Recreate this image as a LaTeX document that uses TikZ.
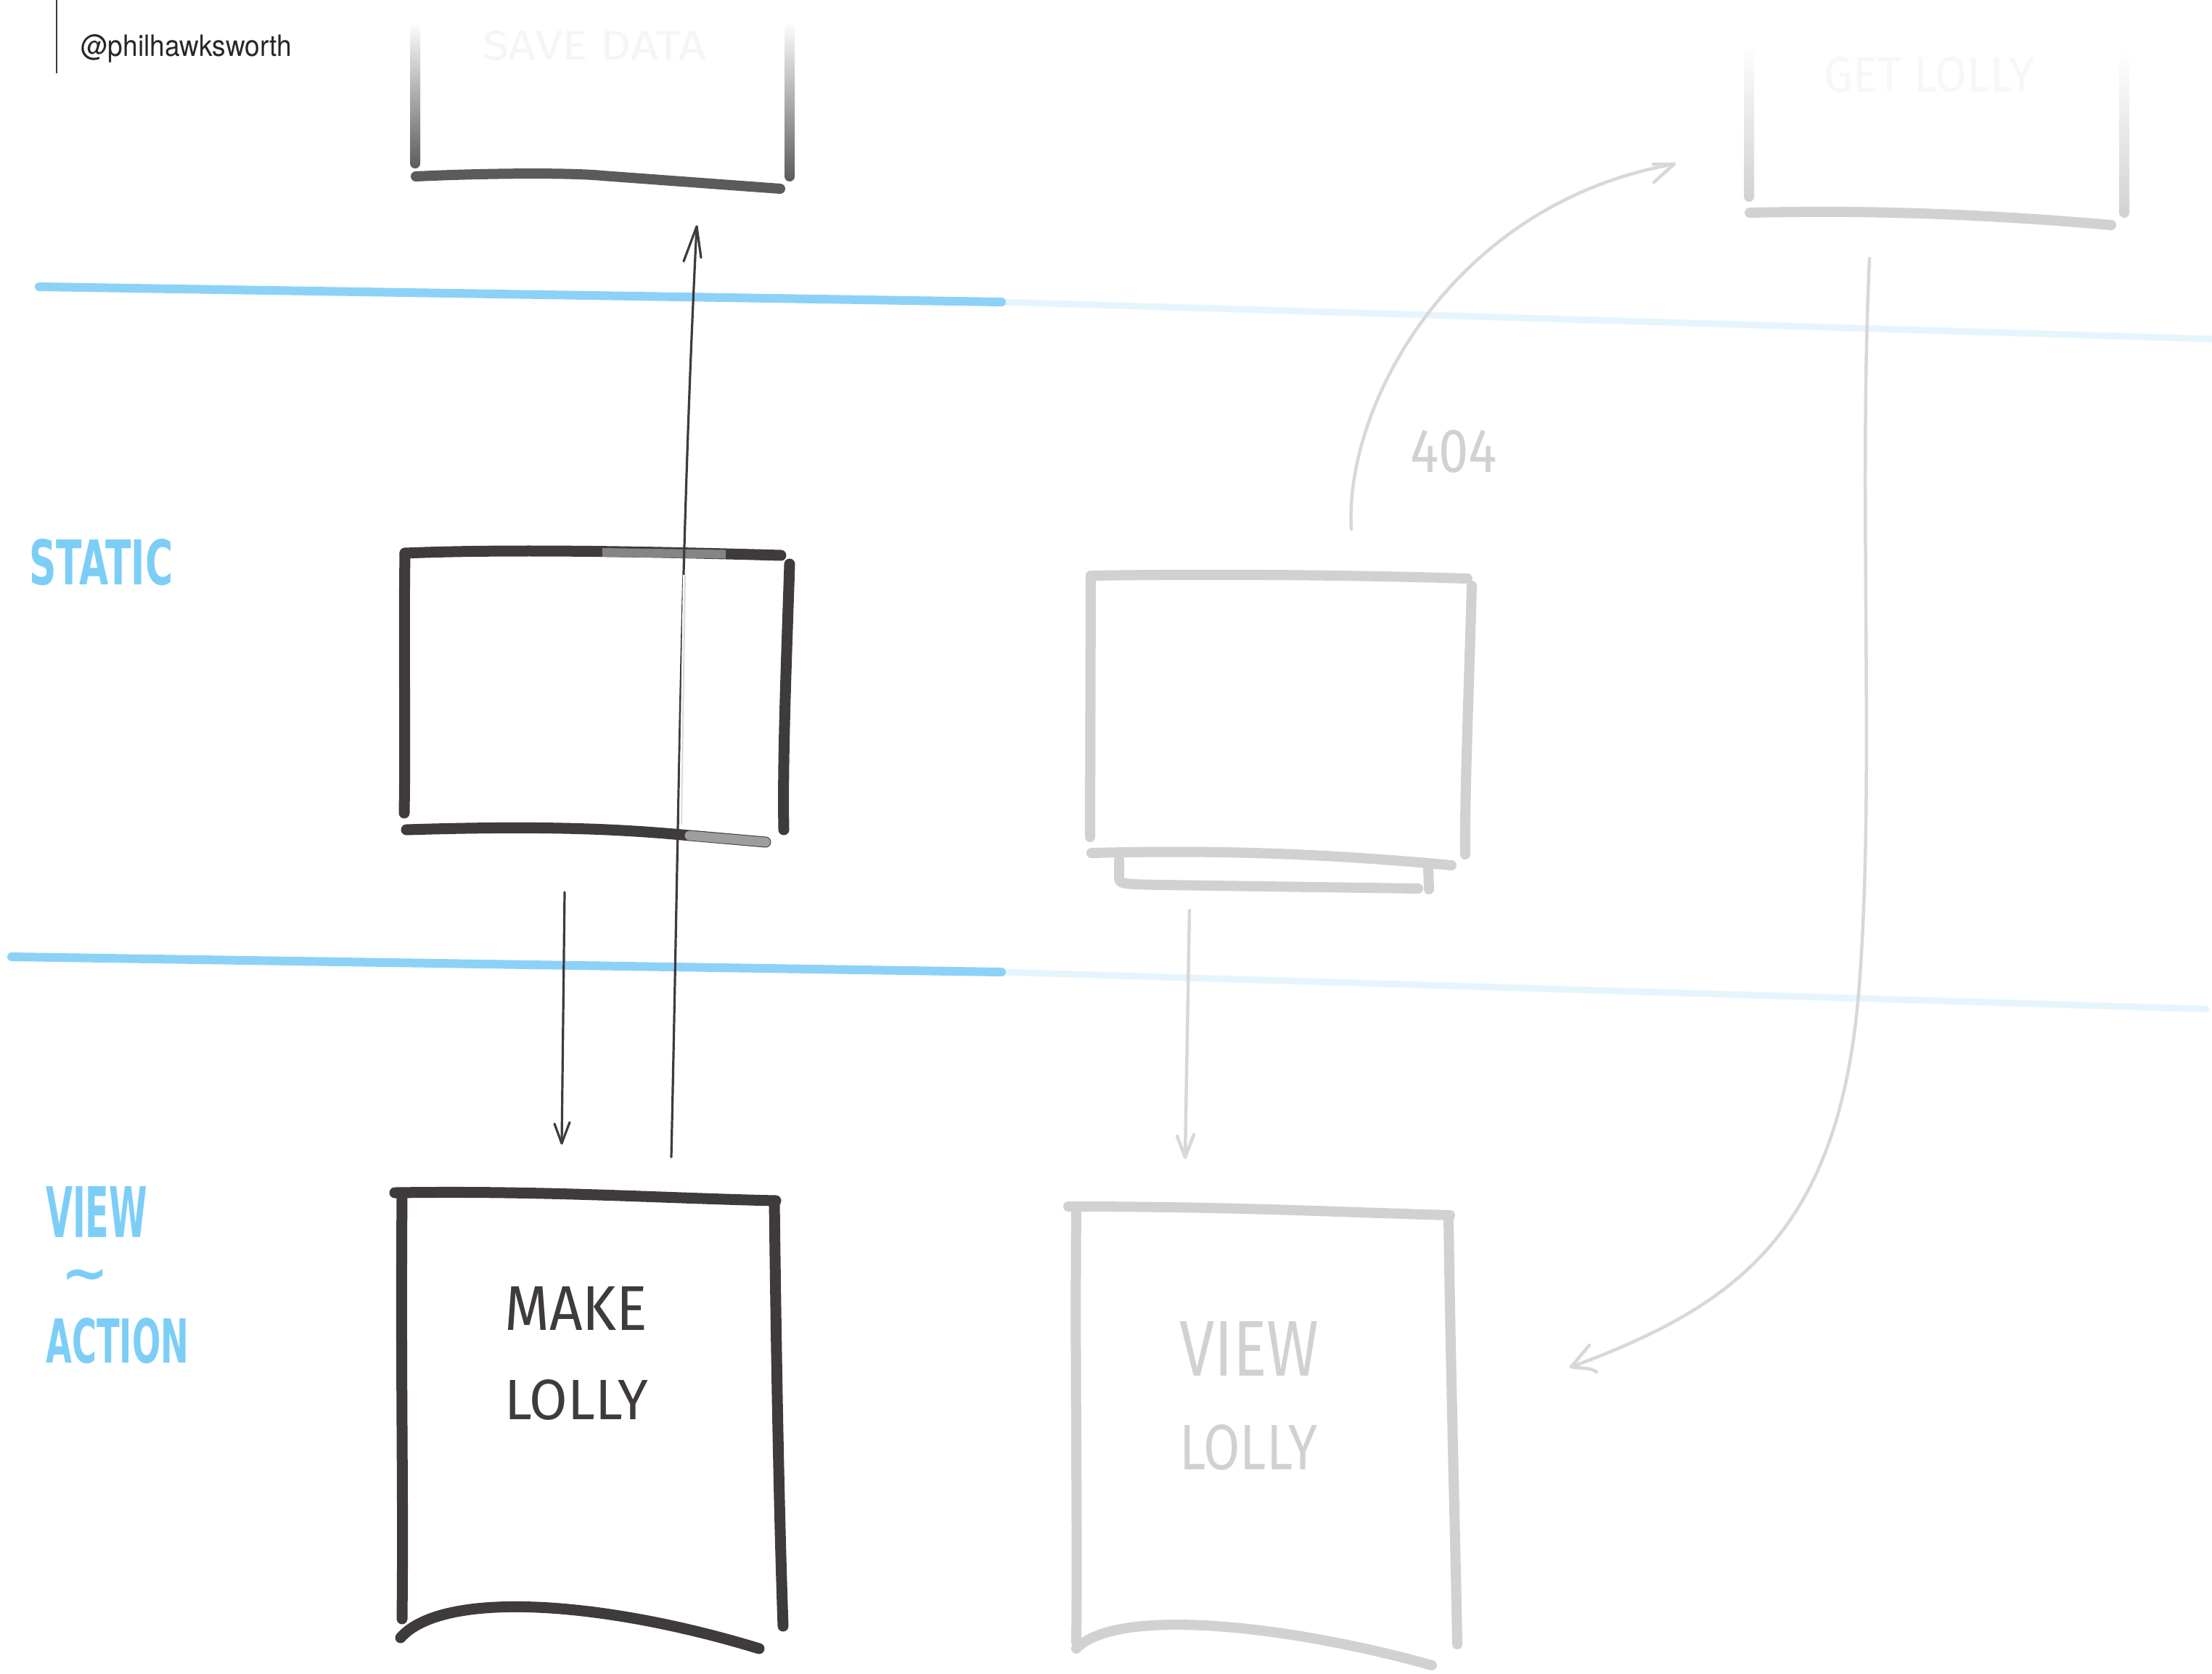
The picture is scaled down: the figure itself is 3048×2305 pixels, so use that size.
\documentclass[tikz,border=0pt]{standalone}
\usepackage{fontspec}
\setmainfont{Fira Sans}
\newfontfamily\headfont{TeX Gyre Heros}
\newfontfamily\bluefont{DejaVu Sans}
\definecolor{ink}{HTML}{3E3A3D}
\definecolor{inkB}{HTML}{5C5A5C}
\definecolor{pale}{HTML}{D1D1D1}
\definecolor{palearr}{HTML}{D8D8D8}
\definecolor{sky}{HTML}{8CD2F7}
\definecolor{skyfaint}{HTML}{E6F5FD}
\definecolor{skytext}{HTML}{7CCEF7}
\tikzset{
  inkline/.style={draw=ink, line width=15pt, line cap=round, line join=round},
  inkBline/.style={draw=inkB, line width=14pt, line cap=round},
  paleline/.style={draw=pale, line width=14pt, line cap=round, line join=round},
  thinarrow/.style={draw=ink, line width=3.2pt, line cap=round, line join=round},
  palearrow/.style={draw=palearr, line width=4.5pt, line cap=round, line join=round},
  blueline/.style={draw=sky, line width=12pt, line cap=round},
  bluefaint/.style={draw=skyfaint, line width=9pt, line cap=round},
  lbl/.style={inner sep=0pt, anchor=north west},
  bluelbl/.style={lbl, text=skytext, font=\bluefont\bfseries},
}
\begin{document}
\begin{tikzpicture}[x=1pt, y=-1pt]
\useasboundingbox[fill=white] (0,0) rectangle (3048,2305);

% ---- header
\coordinate (hA) at (78,0);
\coordinate (hB) at (78,101);
\draw[draw=ink, line width=2.5pt] (hA) -- (hB);
\node[lbl, text=black!85] (handle) at (111,47) {\headfont\resizebox{291pt}{30pt}{@philhawksworth}};

% ---- blue separators
\coordinate (b1a) at (54,395);
\coordinate (b1m) at (1380,416);
\coordinate (b1b) at (3048,467);
\coordinate (b2a) at (16,1318);
\coordinate (b2m) at (1380,1339);
\coordinate (b2b) at (3040,1390);
\draw[bluefaint] (b1m) -- (b1b);
\draw[bluefaint] (b2m) -- (b2b);
\draw[blueline] (b1a) -- (b1m);
\draw[blueline] (b2a) -- (b2m);

% ---- side labels
\node[bluelbl] (static) at (40,742) {\resizebox{198pt}{63pt}{STATIC}};
\node[bluelbl] (view) at (63,1634) {\resizebox{140pt}{70pt}{VIEW}};
\node[inner sep=0pt, anchor=base west, text=skytext, font=\bluefont\bfseries\fontsize{78}{80}\selectfont] (tilde) at (84,1780) {\smash{\textasciitilde}};
\node[bluelbl] (action) at (63,1815) {\resizebox{197pt}{62pt}{ACTION}};

% ---- SAVE DATA box (top left, fading)
\shade[top color=white, bottom color=inkB, rounded corners=7pt] (565,30) rectangle (579,232);
\shade[top color=white, bottom color=inkB, rounded corners=7pt] (1081,30) rectangle (1095,250);
\draw[inkBline] (573,243) .. controls (680,238) and (790,238) .. (830,242) -- (1075,260);
\node[lbl, text=black!4] (savedata) at (665,42) {\resizebox{308pt}{40pt}{SAVE DATA}};

% ---- GET LOLLY box (top right, fading)
\shade[top color=white, bottom color=pale, rounded corners=7pt] (2403,60) rectangle (2417,278);
\shade[top color=white, bottom color=pale, rounded corners=7pt] (2920,70) rectangle (2934,300);
\draw[paleline] (2411,293) .. controls (2550,290) and (2700,292) .. (2909,310);
\node[lbl, text=black!3] (getlolly) at (2513,78) {\resizebox{290pt}{48pt}{GET LOLLY}};

% ---- static page (dark)
\draw[inkline] (558,762) .. controls (700,756) and (900,760) .. (1076,765);
\draw[draw=black!48, line width=12pt] (830,761) -- (1000,763.5);
\draw[inkline] (558,762) .. controls (556,900) and (559,1000) .. (557,1120);
\draw[inkline] (1088,777) .. controls (1084,900) and (1078,1050) .. (1080,1143);
\draw[inkline] (560,1143) .. controls (750,1137) and (850,1142) .. (940,1150) -- (1055,1160);
\draw[draw=black!38, line width=13pt, line cap=round] (950,1151) -- (1055,1160);

% ---- static page (pale, stacked)
\draw[paleline] (1503,793) .. controls (1700,790) and (1900,793) .. (2022,797);
\draw[paleline] (1503,793) -- (1502,1153);
\draw[paleline] (2028,807) .. controls (2024,950) and (2018,1100) .. (2019,1177);
\draw[paleline] (1504,1175) .. controls (1700,1170) and (1850,1178) .. (2000,1192);
\draw[paleline] (1542,1185) -- (1542,1210) .. controls (1542,1218) and (1550,1218) .. (1600,1219) -- (1954,1224);
\draw[paleline] (1968,1197) -- (1969,1225);

% ---- MAKE LOLLY page (dark)
\draw[inkline] (544,1643) .. controls (750,1640) and (900,1650) .. (1069,1654);
\draw[inkline] (554,1643) .. controls (552,1900) and (556,2050) .. (554,2230);
\draw[inkline] (1067,1654) .. controls (1070,1900) and (1074,2100) .. (1079,2240);
\draw[inkline] (552,2256) .. controls (610,2190) and (830,2205) .. (1046,2271);
\node[lbl, text=ink] (make) at (695,1772) {\resizebox{197pt}{60pt}{MAKE}};
\node[lbl, text=ink] (lolly1) at (695,1900) {\resizebox{198pt}{55pt}{LOLLY}};

% ---- VIEW LOLLY page (pale)
\draw[paleline] (1472,1662) .. controls (1700,1662) and (1850,1670) .. (1998,1674);
\draw[paleline] (1483,1662) .. controls (1481,1900) and (1485,2100) .. (1483,2262);
\draw[paleline] (1996,1676) .. controls (1999,1900) and (2005,2100) .. (2008,2265);
\draw[paleline] (1483,2271) .. controls (1540,2212) and (1780,2240) .. (1973,2294);
\node[lbl, text=pale] (view2) at (1625,1820) {\resizebox{192pt}{75pt}{VIEW}};
\node[lbl, text=pale] (lolly2) at (1625,1962) {\resizebox{190pt}{62pt}{LOLLY}};

% ---- 404 label
\node[lbl, text=black!18] (e404) at (1943,592) {\resizebox{120pt}{58pt}{404}};

% ---- connectors
% dark up arrow: MAKE LOLLY -> SAVE DATA
\coordinate (upS) at (925,1594);
\coordinate (upT) at (960,312);
\coordinate (upL) at (942,360);
\coordinate (upR) at (966,355);
\draw[thinarrow] (upS) .. controls (935,1150) and (938,750) .. (upT);
\draw[thinarrow] (upL) -- (upT) -- (upR);
\coordinate (upFa) at (944,792);
\coordinate (upFb) at (939,1136);
\draw[draw=white, line width=6pt] (upFa) -- (upFb);
\draw[draw=black!14, line width=2pt] (upFa) -- (upFb);

% dark down arrow: static -> MAKE LOLLY
\coordinate (dnS) at (778,1229);
\coordinate (dnT) at (774,1575);
\draw[thinarrow] (dnS) -- (dnT);
\draw[thinarrow] (764,1548) -- (dnT) -- (785,1546);

% pale down arrow: static -> VIEW LOLLY
\coordinate (pdS) at (1639,1254);
\coordinate (pdT) at (1633,1594);
\draw[palearrow] (pdS) -- (pdT);
\draw[palearrow] (1622,1565) -- (pdT) -- (1645,1563);

% 404 arrow: static -> GET LOLLY
\coordinate (fS) at (1862,729);
\coordinate (fT) at (2307,226);
\draw[palearrow] (fS) .. controls (1852,560) and (2000,280) .. (fT);
\draw[palearrow] (2278,226) -- (fT) -- (2279,251);

% GET LOLLY -> VIEW LOLLY
\coordinate (gS) at (2576,356);
\coordinate (gM) at (2560,1380);
\coordinate (gT) at (2165,1883);
\draw[palearrow] (gS) .. controls (2560,700) and (2585,1100) .. (gM) .. controls (2530,1700) and (2390,1800) .. (gT);
\draw[palearrow] (2190,1853) -- (gT) .. controls (2180,1885) and (2192,1884) .. (2200,1890);
\end{tikzpicture}
\end{document}
